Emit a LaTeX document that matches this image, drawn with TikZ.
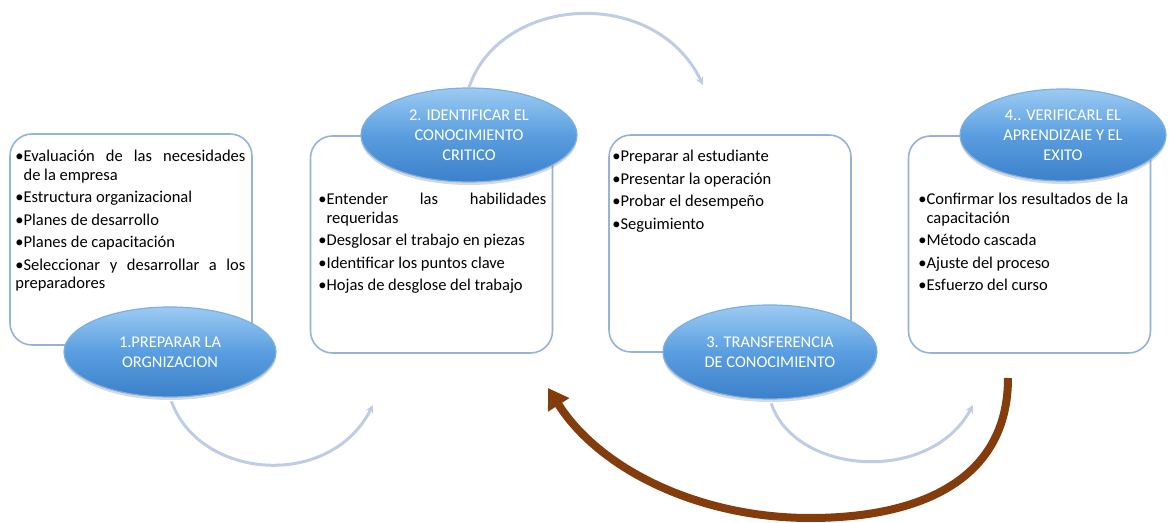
\documentclass[tikz,border=0pt]{standalone}
\usepackage{fontspec}
\setmainfont{Carlito}
\usetikzlibrary{arrows.meta,shapes.geometric,shadows}
\definecolor{boxline}{HTML}{95B3D7}
\definecolor{elltop}{HTML}{9CCBF2}
\definecolor{ellmid}{HTML}{5A9EE0}
\definecolor{ellbot}{HTML}{3B80CA}
\definecolor{elledge}{HTML}{7DB0E3}
\definecolor{lightarc}{HTML}{BFCDE4}
\definecolor{brownarc}{HTML}{843C0C}
\newlength\bulw
\newcommand\bitem[1]{\par\settowidth{\bulw}{•}\hangindent=\bulw\hangafter=1\noindent•#1}
\newcommand\pset{\hyphenpenalty=10000\relax\exhyphenpenalty=10000\relax\parskip=2pt\relax}
\tikzset{
  x=0.5pt, y=-0.5pt,
  panel/.style={draw=boxline, line width=0.8pt, rounded corners=11pt, fill=white, minimum width=121pt, inner sep=0pt},
  paneltext/.style={anchor=north west, inner sep=0pt, align=justify,
     font=\fontsize{8.25}{9.25}\selectfont},
  oval/.style={ellipse, draw=elledge, line width=0.6pt, top color=elltop, bottom color=ellbot, middle color=ellmid,
     text=white, align=center, inner sep=0pt, font=\fontsize{8.2}{10}\selectfont,
     drop shadow={shadow xshift=0pt, shadow yshift=-1.5pt, opacity=0.3, fill=gray}},
  thinarc/.style={draw=lightarc, line width=1.5pt, -{Stealth[length=4pt,width=4pt,open]}},
  bigarc/.style={draw=brownarc, line width=4pt, -{Triangle[length=10pt,width=12pt]}}
}
\begin{document}
\begin{tikzpicture}
\useasboundingbox (0,0) rectangle (1169,523);
% panels
\node[panel, minimum height=105.5pt] (b1) at (131,239.5) {};
\node[panel, minimum height=108.5pt] (b2) at (431.5,244.5) {};
\node[panel, minimum height=108.5pt] (b3) at (730,243.5) {};
\node[panel, minimum height=108.5pt] (b4) at (1029.5,244.5) {};
% panel texts
\node[paneltext, text width=115pt] (t1) at (15,139) {\pset
\bitem{Evaluación de las necesidades\linebreak de la empresa}
\bitem{Estructura organizacional}
\bitem{Planes de desarrollo}
\bitem{Planes de capacitación}
\bitem{Seleccionar y desarrollar a los preparadores}};
\node[paneltext, text width=114pt] (t2) at (318,182) {\pset
\bitem{Entender las habilidades requeridas}
\bitem{Desglosar el trabajo en piezas}
\bitem{Identificar los puntos clave}
\bitem{Hojas de desglose del trabajo}};
\node[paneltext, text width=114pt] (t3) at (612,139) {\pset
\bitem{Preparar al estudiante}
\bitem{Presentar la operación}
\bitem{Probar el desempeño}
\bitem{Seguimiento}};
\node[paneltext, text width=105pt] (t4) at (918,182) {\pset
\bitem{Confirmar los resultados de la capacitación}
\bitem{Método cascada}
\bitem{Ajuste del proceso}
\bitem{Esfuerzo del curso}};
% ovals
\node[oval, minimum width=106pt, minimum height=45pt] (e1) at (170,352) {1.PREPARAR LA\\ORGNIZACION};
\node[oval, minimum width=108pt, minimum height=47pt] (e2) at (469,135) {2. IDENTIFICAR EL\\CONOCIMIENTO\\CRITICO};
\node[oval, minimum width=107pt, minimum height=47pt] (e3) at (770,352) {3. TRANSFERENCIA\\DE CONOCIMIENTO};
\node[oval, minimum width=103pt, minimum height=46pt] (e4) at (1063,135) {4.. VERIFICARL EL\\APRENDIZAIE Y EL\\EXITO};
% free ends
\coordinate (a1end) at (373,405);
\coordinate (a2end) at (703,85);
\coordinate (a3end) at (973,405);
\coordinate (bigstart) at (1008,378);
\coordinate (bigend) at (548,388);
% light arcs
\draw[thinarc, shorten <=2pt] (e1.south) .. controls (200,480) and (330,490) .. (a1end);
\draw[thinarc] (e2.north) .. controls (500,-5) and (655,-15) .. (a2end);
\draw[thinarc, shorten <=2pt] (e3.south) .. controls (795,475) and (930,485) .. (a3end);
% brown return arrow
\draw[bigarc] (bigstart) .. controls (1008,480) and (920,518) .. (810,518) .. controls (700,518) and (600,470) .. (bigend);
\end{tikzpicture}
\end{document}
